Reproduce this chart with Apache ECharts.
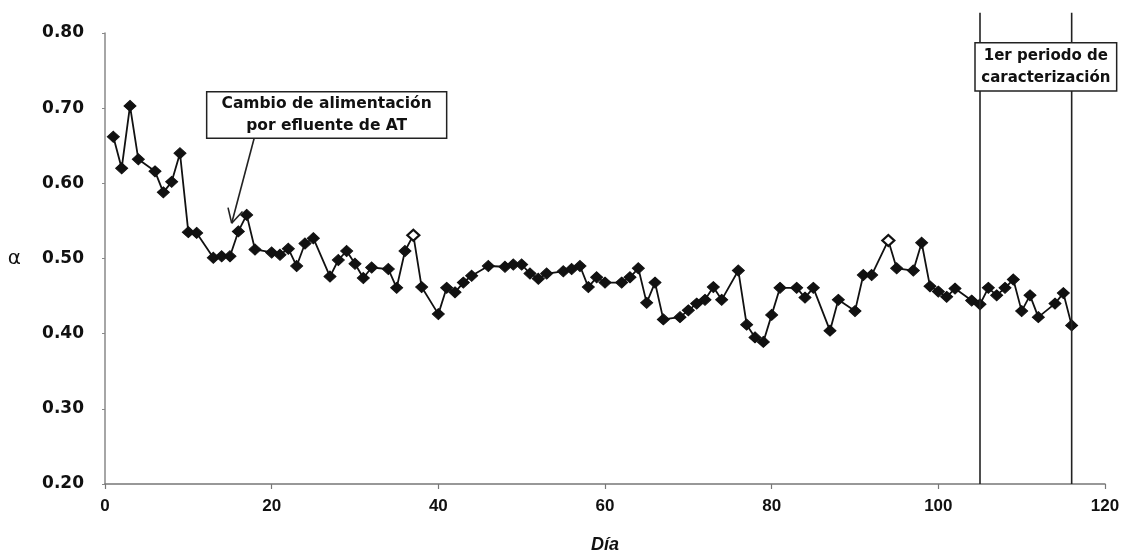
<!DOCTYPE html>
<html>
<head>
<meta charset="utf-8">
<script src="https://cdn.jsdelivr.net/npm/echarts@6/dist/echarts.min.js"></script>
<style>
  html, body { margin: 0; padding: 0; background: #fff; }
  #chart { width: 1129px; height: 559px; }
</style>
</head>
<body>
<div id="chart"></div>
<script>
// Día de operación y valor de alfa medido
const dias = [
  1, 2, 3, 4, 6, 7, 8, 9, 10, 11,
  13, 14, 15, 16, 17, 18, 20, 21, 22, 23,
  24, 25, 27, 28, 29, 30, 31, 32, 34, 35,
  36, 37, 38, 40, 41, 42, 43, 44, 46, 48,
  49, 50, 51, 52, 53, 55, 56, 57, 58, 59,
  60, 62, 63, 64, 65, 66, 67, 69, 70, 71,
  72, 73, 74, 76, 77, 78, 79, 80, 81, 83,
  84, 85, 87, 88, 90, 91, 92, 94, 95, 97,
  98, 99, 100, 101, 102, 104, 105, 106, 107, 108,
  109, 110, 111, 112, 114, 115, 116
];
const alfa = [
  0.662, 0.620, 0.703, 0.632, 0.616, 0.588, 0.602, 0.640, 0.535, 0.534,
  0.501, 0.503, 0.503, 0.536, 0.558, 0.512, 0.508, 0.505, 0.513, 0.490,
  0.520, 0.527, 0.476, 0.498, 0.510, 0.493, 0.474, 0.488, 0.486, 0.461,
  0.510, 0.531, 0.462, 0.426, 0.461, 0.455, 0.468, 0.477, 0.490, 0.489,
  0.492, 0.492, 0.480, 0.473, 0.480, 0.483, 0.486, 0.490, 0.462, 0.475,
  0.468, 0.468, 0.475, 0.487, 0.441, 0.468, 0.419, 0.422, 0.431, 0.440,
  0.445, 0.462, 0.445, 0.484, 0.412, 0.395, 0.389, 0.425, 0.461, 0.461,
  0.448, 0.461, 0.404, 0.445, 0.430, 0.478, 0.478, 0.524, 0.487, 0.484,
  0.521, 0.463, 0.456, 0.449, 0.460, 0.444, 0.439, 0.461, 0.451, 0.461,
  0.472, 0.430, 0.451, 0.422, 0.440, 0.454, 0.411
];
// Días cuyo marcador aparece hueco
const diasMarcaAbierta = [37, 94];
// Límites del 1er periodo de caracterización (día)
const limitesPeriodo = [105, 116];

const ejeX = { min: 0, max: 120, interval: 20 };
const ejeY = { min: 0.20, max: 0.80, interval: 0.10 };

// Anotaciones en coordenadas de datos [día, alfa]
const notaCambio = {
  lineas: ['Cambio de alimentación', 'por efluente de AT'],
  esquinaSup: [12.2, 0.722],
  esquinaInf: [41.0, 0.660],
  flechaDesde: [17.9, 0.660],
  flechaHasta: [15.2, 0.547]
};
const notaPeriodo = {
  lineas: ['1er periodo de', 'caracterización'],
  esquinaSup: [104.4, 0.787],
  esquinaInf: [121.4, 0.723],
  altoLinea: 0.827
};

const puntos = dias.map((d, i) => {
  const abierto = diasMarcaAbierta.includes(d);
  return {
    value: [d, alfa[i]],
    itemStyle: abierto ? { color: '#fff', borderColor: '#111', borderWidth: 2.2 } : undefined
  };
});

const chart = echarts.init(document.getElementById('chart'), null, { renderer: 'canvas' });

const fuenteEje = '"DejaVu Sans", "Liberation Sans", sans-serif';
const fuenteX = '"Liberation Sans Narrow", "Liberation Sans", sans-serif';
const fuenteNota = '"DejaVu Sans", "Liberation Sans", sans-serif';

chart.setOption({
  animation: false,
  backgroundColor: '#fff',
  grid: { left: 105, right: 24, top: 33, bottom: 64, containLabel: false },
  xAxis: {
    type: 'value',
    min: ejeX.min, max: ejeX.max, interval: ejeX.interval,
    name: 'Día',
    nameLocation: 'middle',
    nameGap: 52,
    nameTextStyle: { fontFamily: '"Liberation Sans", sans-serif', fontWeight: 'bold', fontStyle: 'italic', fontSize: 18, color: '#111' },
    axisLine: { show: true, onZero: false, lineStyle: { color: '#777', width: 1.5 } },
    axisTick: { show: true, length: 5, lineStyle: { color: '#777', width: 1.2 } },
    axisLabel: { fontFamily: fuenteX, fontWeight: 'bold', fontSize: 17, color: '#111', margin: 14 },
    splitLine: { show: false }
  },
  yAxis: {
    type: 'value',
    min: ejeY.min, max: ejeY.max, interval: ejeY.interval,
    name: 'α',
    nameLocation: 'middle',
    nameRotate: 0,
    nameGap: 84,
    nameTextStyle: { fontFamily: fuenteEje, fontSize: 20, color: '#111' },
    axisLine: { show: true, onZero: false, lineStyle: { color: '#888', width: 1.5 } },
    axisTick: { show: true, length: 3, lineStyle: { color: '#888', width: 1 } },
    axisLabel: {
      fontFamily: fuenteEje, fontWeight: 'bold', fontSize: 17, color: '#111', margin: 21,
      formatter: v => v.toFixed(2)
    },
    splitLine: { show: false }
  },
  series: [{
    type: 'line',
    data: puntos,
    symbol: 'diamond',
    symbolSize: [12, 11],
    showAllSymbol: true,
    clip: false,
    lineStyle: { color: '#111', width: 1.8 },
    itemStyle: { color: '#111', borderColor: '#111', borderWidth: 1 },
    z: 3
  }]
});

// Elementos de anotación situados con las escalas del gráfico
function px(p) { return chart.convertToPixel({ gridIndex: 0 }, p); }

function cuadroTexto(nota, fuente, tam, interlineado) {
  const a = px(nota.esquinaSup);
  const b = px(nota.esquinaInf);
  const x = a[0], y = a[1], w = b[0] - a[0], h = b[1] - a[1];
  return [
    {
      type: 'rect', z: 10,
      shape: { x: x, y: y, width: w, height: h },
      style: { fill: '#fff', stroke: '#222', lineWidth: 1.5 }
    },
    {
      type: 'text', z: 11,
      x: x + w / 2, y: y + h / 2,
      style: {
        text: nota.lineas.join('\n'),
        align: 'center', verticalAlign: 'middle',
        font: 'bold ' + tam + 'px ' + fuente,
        lineHeight: interlineado,
        fill: '#111'
      }
    }
  ];
}

const graficos = [];

// Líneas verticales del periodo de caracterización
limitesPeriodo.forEach(d => {
  const p0 = px([d, ejeY.min]);
  const p1 = px([d, notaPeriodo.altoLinea]);
  graficos.push({
    type: 'line', z: 5,
    shape: { x1: p0[0], y1: p0[1], x2: p1[0], y2: p1[1] },
    style: { stroke: '#222', lineWidth: 1.6 }
  });
});

graficos.push(...cuadroTexto(notaPeriodo, fuenteNota, 15, 22));
graficos.push(...cuadroTexto(notaCambio, fuenteNota, 15.5, 22));

// Flecha con punta abierta
(function () {
  const t = px(notaCambio.flechaDesde);
  const h = px(notaCambio.flechaHasta);
  graficos.push({
    type: 'line', z: 9,
    shape: { x1: t[0], y1: t[1], x2: h[0], y2: h[1] },
    style: { stroke: '#222', lineWidth: 1.6 }
  });
  const ang = Math.atan2(t[1] - h[1], t[0] - h[0]);
  const largo = 16, abertura = 28 * Math.PI / 180;
  [ang - abertura, ang + abertura].forEach(a => {
    graficos.push({
      type: 'line', z: 9,
      shape: { x1: h[0], y1: h[1], x2: h[0] + largo * Math.cos(a), y2: h[1] + largo * Math.sin(a) },
      style: { stroke: '#222', lineWidth: 1.6 }
    });
  });
})();

chart.setOption({ graphic: graficos });
</script>
</body>
</html>
